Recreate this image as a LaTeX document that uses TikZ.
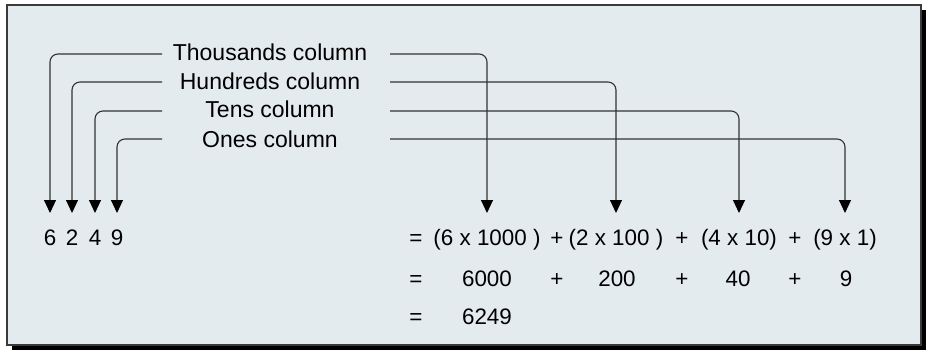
\documentclass[tikz,border=0pt]{standalone}
\usepackage{fontspec}
\setmainfont{Liberation Sans}
\usetikzlibrary{arrows.meta}
\definecolor{bgfill}{HTML}{E4EBEF}
\definecolor{linec}{HTML}{333333}
\definecolor{framec}{HTML}{3A3A3A}
\begin{document}
\begin{tikzpicture}[x=1pt,y=-1pt,
  conn/.style={draw=linec, line width=1.1pt, rounded corners=8pt, -{Triangle[width=12pt,length=13pt,color=black]}},
  lab/.style={font=\fontsize{23}{23}\selectfont, inner sep=0pt, anchor=base},
  eq/.style={font=\fontsize{22.4}{22.4}\selectfont, inner sep=0pt, anchor=base},
]
\useasboundingbox (0,0) rectangle (926,350);
% frame with shadow
\fill[black] (12,10) rectangle (926,350);
\filldraw[fill=bgfill, draw=framec, line width=1.2pt] (7,5) rectangle (921,345);

% labels
\node[lab] (lth) at (270,61) {Thousands column};
\node[lab] (lhu) at (270,90) {Hundreds column};
\node[lab] (lte) at (270,118) {Tens column};
\node[lab] (lon) at (270,147) {Ones column};

% line start points
\coordinate (ls1) at (162,54);
\coordinate (ls2) at (162,82);
\coordinate (ls3) at (162,111);
\coordinate (ls4) at (162,139);
\coordinate (rs1) at (390,54);
\coordinate (rs2) at (390,82);
\coordinate (rs3) at (390,111);
\coordinate (rs4) at (390,139);
\coordinate (tip) at (0,213);

% digits
\node[eq] (d6) at (50,245) {6};
\node[eq] (d2) at (72,245) {2};
\node[eq] (d4) at (95,245) {4};
\node[eq] (d9) at (117,245) {9};

% row 1
\node[eq] (e1) at (416,245) {=};
\node[eq] (g1) at (487,245) {(6 x 1000 )};
\node[eq] (p11) at (557,245) {+};
\node[eq] (g2) at (616,245) {(2 x 100 )};
\node[eq] (p12) at (682,245) {+};
\node[eq] (g3) at (739,245) {(4 x 10)};
\node[eq] (p13) at (795,245) {+};
\node[eq] (g4) at (845,245) {(9 x 1)};

% row 2
\node[eq] (e2) at (416,286) {=};
\node[eq] (v1) at (487,286) {6000};
\node[eq] (p21) at (557,286) {+};
\node[eq] (v2) at (617,286) {200};
\node[eq] (p22) at (682,286) {+};
\node[eq] (v3) at (738,286) {40};
\node[eq] (p23) at (795,286) {+};
\node[eq] (v4) at (846,286) {9};

% row 3
\node[eq] (e3) at (416,324) {=};
\node[eq] (tot) at (487,324) {6249};

% connectors to digits
\draw[conn] (ls1) -| (d6 |- tip);
\draw[conn] (ls2) -| (d2 |- tip);
\draw[conn] (ls3) -| (d4 |- tip);
\draw[conn] (ls4) -| (d9 |- tip);

% connectors to expansion
\draw[conn] (rs1) -| (g1 |- tip);
\draw[conn] (rs2) -| (g2 |- tip);
\draw[conn] (rs3) -| (g3 |- tip);
\draw[conn] (rs4) -| (g4 |- tip);
\end{tikzpicture}
\end{document}
